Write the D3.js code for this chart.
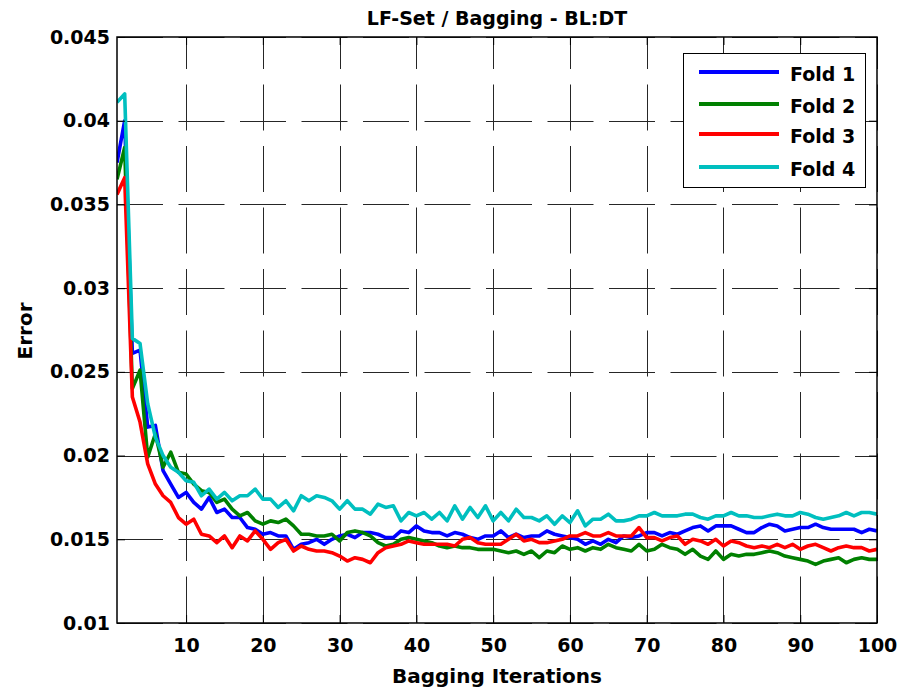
<!DOCTYPE html>
<html><head><meta charset="utf-8">
<script src="https://cdn.jsdelivr.net/npm/d3@7"></script>
<style>html,body{margin:0;padding:0;background:#fff;}svg{display:block;}</style>
</head><body>
<script>
const fold1 = [0.0375,0.0400,0.0261,0.0263,0.0217,0.0218,0.0191,0.0183,0.0175,0.0178,
0.0172,0.0168,0.0175,0.0166,0.0168,0.0163,0.0163,0.0157,0.0156,0.0153,
0.0154,0.0152,0.0152,0.0144,0.0147,0.0148,0.0150,0.0147,0.0150,0.0152,
0.0153,0.0151,0.0154,0.0154,0.0153,0.0151,0.0151,0.0155,0.0154,0.0158,
0.0155,0.0154,0.0154,0.0152,0.0154,0.0153,0.0151,0.0150,0.0152,0.0152,
0.0155,0.0151,0.0153,0.0151,0.0152,0.0152,0.0155,0.0153,0.0152,0.0151,
0.0150,0.0147,0.0149,0.0147,0.0150,0.0148,0.0152,0.0151,0.0152,0.0154,
0.0154,0.0152,0.0154,0.0153,0.0155,0.0157,0.0158,0.0155,0.0158,0.0158,
0.0158,0.0156,0.0154,0.0154,0.0157,0.0159,0.0158,0.0155,0.0156,0.0157,
0.0157,0.0159,0.0157,0.0156,0.0156,0.0156,0.0156,0.0154,0.0156,0.0155];
const fold2 = [0.0365,0.0384,0.0240,0.0251,0.0199,0.0213,0.0193,0.0202,0.0190,0.0189,
0.0183,0.0179,0.0178,0.0172,0.0174,0.0168,0.0164,0.0166,0.0161,0.0159,
0.0161,0.0160,0.0162,0.0158,0.0153,0.0153,0.0152,0.0152,0.0153,0.0149,
0.0154,0.0155,0.0154,0.0152,0.0148,0.0146,0.0147,0.0150,0.0151,0.0150,
0.0149,0.0148,0.0146,0.0145,0.0146,0.0145,0.0145,0.0144,0.0144,0.0144,
0.0143,0.0142,0.0143,0.0141,0.0143,0.0139,0.0143,0.0142,0.0146,0.0144,
0.0145,0.0143,0.0145,0.0144,0.0147,0.0145,0.0144,0.0143,0.0147,0.0143,
0.0144,0.0147,0.0145,0.0144,0.0141,0.0144,0.0140,0.0138,0.0143,0.0138,
0.0141,0.0140,0.0141,0.0141,0.0142,0.0143,0.0142,0.0140,0.0139,0.0138,
0.0137,0.0135,0.0137,0.0138,0.0139,0.0136,0.0138,0.0139,0.0138,0.0138];
const fold3 = [0.0356,0.0366,0.0235,0.0220,0.0195,0.0183,0.0176,0.0172,0.0163,0.0159,
0.0162,0.0153,0.0152,0.0148,0.0152,0.0145,0.0152,0.0149,0.0155,0.0150,
0.0144,0.0148,0.0150,0.0143,0.0146,0.0144,0.0143,0.0143,0.0142,0.0140,
0.0137,0.0139,0.0138,0.0136,0.0142,0.0145,0.0146,0.0147,0.0149,0.0148,
0.0147,0.0147,0.0147,0.0147,0.0146,0.0150,0.0151,0.0148,0.0147,0.0147,
0.0147,0.0150,0.0153,0.0149,0.0150,0.0148,0.0148,0.0149,0.0150,0.0152,
0.0152,0.0154,0.0152,0.0152,0.0154,0.0152,0.0152,0.0152,0.0157,0.0151,
0.0151,0.0149,0.0151,0.0152,0.0147,0.0150,0.0149,0.0147,0.0150,0.0146,
0.0149,0.0148,0.0146,0.0145,0.0146,0.0145,0.0147,0.0145,0.0147,0.0144,
0.0146,0.0147,0.0145,0.0143,0.0145,0.0146,0.0145,0.0145,0.0143,0.0144];
const fold4 = [0.0411,0.0416,0.0270,0.0267,0.0231,0.0211,0.0200,0.0193,0.0190,0.0185,
0.0184,0.0176,0.0180,0.0174,0.0178,0.0173,0.0176,0.0176,0.0180,0.0174,
0.0174,0.0169,0.0173,0.0167,0.0176,0.0173,0.0176,0.0175,0.0173,0.0168,
0.0173,0.0168,0.0168,0.0165,0.0171,0.0169,0.0170,0.0161,0.0166,0.0164,
0.0166,0.0162,0.0166,0.0161,0.0170,0.0162,0.0169,0.0163,0.0170,0.0161,
0.0166,0.0161,0.0168,0.0163,0.0163,0.0161,0.0164,0.0159,0.0164,0.0160,
0.0167,0.0158,0.0162,0.0162,0.0165,0.0161,0.0161,0.0162,0.0164,0.0164,
0.0166,0.0164,0.0164,0.0164,0.0165,0.0165,0.0163,0.0162,0.0164,0.0164,
0.0166,0.0164,0.0164,0.0163,0.0163,0.0164,0.0165,0.0164,0.0164,0.0166,
0.0165,0.0163,0.0162,0.0163,0.0164,0.0166,0.0164,0.0166,0.0166,0.0165];
const seriesNames = ["Fold 1","Fold 2","Fold 3","Fold 4"];
const seriesColors = ["#0000ff","#008000","#ff0000","#00bfbf"];
const xTicks = [10,20,30,40,50,60,70,80,90,100];
const yTicks = [0.01,0.015,0.02,0.025,0.03,0.035,0.04,0.045];
const yTickLabels = ["0.01","0.015","0.02","0.025","0.03","0.035","0.04","0.045"];
const titleText = "LF-Set / Bagging - BL:DT";
const xLabel = "Bagging Iterations";
const yLabel = "Error";

const W = 902, H = 693;
const L = 117, R = 877, T = 37, B = 623;
const FONT = "'DejaVu Sans', Verdana, sans-serif";

const svg = d3.select("body").append("svg").attr("width", W).attr("height", H);
const x = d3.scaleLinear().domain([1,100]).range([L,R]);
const y = d3.scaleLinear().domain([0.01,0.045]).range([B,T]);

// grid
const grid = svg.append("g").attr("stroke","#262626").attr("stroke-width",1).attr("fill","none");
xTicks.forEach(t => {
  grid.append("line").attr("x1",Math.round(x(t))+0.5).attr("x2",Math.round(x(t))+0.5)
    .attr("y1",T).attr("y2",B).attr("stroke-dasharray","46,15.5").attr("stroke-dashoffset",14);
});
yTicks.forEach(t => {
  grid.append("line").attr("y1",Math.round(y(t))+0.5).attr("y2",Math.round(y(t))+0.5)
    .attr("x1",L).attr("x2",R).attr("stroke-dasharray","46,15.5");
});

// lines
svg.append("clipPath").attr("id","clip").append("rect").attr("x",L).attr("y",T).attr("width",R-L).attr("height",B-T);
const allSeries = [fold1, fold2, fold3, fold4];
const line = d3.line().x((d,i) => x(i+1)).y(d => y(d));
const lg = svg.append("g").attr("clip-path","url(#clip)");
allSeries.forEach((s,k) => {
  lg.append("path").datum(s).attr("d",line).attr("fill","none")
    .attr("stroke",seriesColors[k]).attr("stroke-width",3.6).attr("stroke-linejoin","round");
});

// axes
const axB = d3.axisBottom(x).tickValues(xTicks).tickSize(-8).tickPadding(15.5).tickFormat(d3.format("d"));
const axT = d3.axisTop(x).tickValues(xTicks).tickSize(-8).tickFormat("");
const axL = d3.axisLeft(y).tickValues(yTicks).tickSize(-8).tickPadding(7).tickFormat((d,i)=>yTickLabels[i]);
const axR = d3.axisRight(y).tickValues(yTicks).tickSize(-8).tickFormat("");
function style(g){
  g.selectAll(".domain").attr("stroke","#000").attr("stroke-width",1.5);
  g.selectAll(".tick line").attr("stroke","#000").attr("stroke-width",1);
  g.selectAll("text").attr("font-family",FONT).attr("font-weight","bold").attr("font-size",19).attr("fill","#000");
}
svg.append("g").attr("transform",`translate(0,${B})`).call(axB).call(style).call(g=>g.selectAll(".domain").remove());
svg.append("g").attr("transform",`translate(0,${T})`).call(axT).call(style).call(g=>g.selectAll(".domain").remove());
svg.append("g").attr("transform",`translate(${L},0)`).call(axL).call(style).call(g=>g.selectAll(".domain").remove());
svg.append("g").attr("transform",`translate(${R},0)`).call(axR).call(style).call(g=>g.selectAll(".domain").remove());
svg.append("rect").attr("x",L).attr("y",T).attr("width",R-L).attr("height",B-T)
  .attr("fill","none").attr("stroke","#000").attr("stroke-width",1.5);

// title and labels
svg.append("text").attr("x",(L+R)/2).attr("y",25).attr("text-anchor","middle")
  .attr("font-family",FONT).attr("font-weight","bold").attr("font-size",19).text(titleText);
svg.append("text").attr("x",(L+R)/2).attr("y",683).attr("text-anchor","middle")
  .attr("font-family",FONT).attr("font-weight","bold").attr("font-size",20).text(xLabel);
svg.append("text").attr("transform",`translate(32,${(T+B)/2+1}) rotate(-90)`).attr("text-anchor","middle")
  .attr("font-family",FONT).attr("font-weight","bold").attr("font-size",20).text(yLabel);

// legend
const leg = svg.append("g");
leg.append("rect").attr("x",683.5).attr("y",53.5).attr("width",182).attr("height",134)
  .attr("fill","#fff").attr("stroke","#000").attr("stroke-width",1);
const legY = [72,104,134,167];
seriesNames.forEach((n,k) => {
  leg.append("line").attr("x1",699).attr("x2",779).attr("y1",legY[k]).attr("y2",legY[k])
    .attr("stroke",seriesColors[k]).attr("stroke-width",4);
  leg.append("text").attr("x",790).attr("y",legY[k]+9).attr("font-family",FONT)
    .attr("font-weight","bold").attr("font-size",19).text(n);
});
</script>
</body></html>
